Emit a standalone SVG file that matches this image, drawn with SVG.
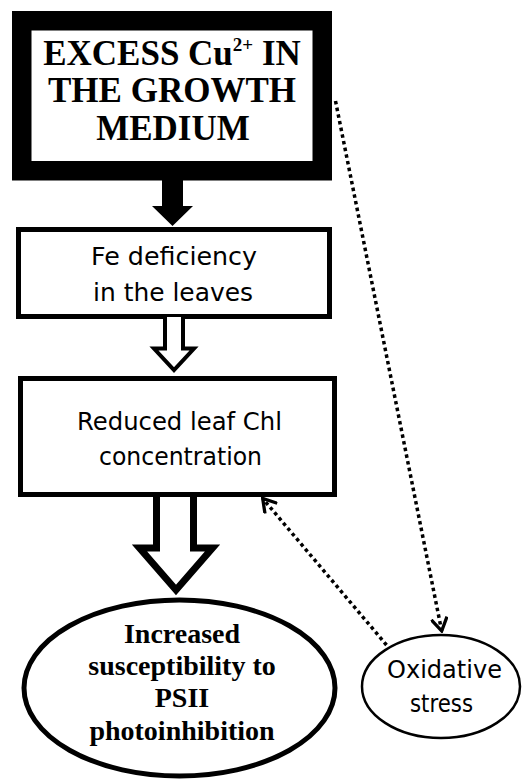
<svg xmlns="http://www.w3.org/2000/svg" width="523" height="780" viewBox="0 0 523 780">
<style>
.serif{font-family:"Liberation Serif","Times New Roman",serif;font-weight:bold;fill:#000;text-anchor:middle}
.sans{font-family:"DejaVu Sans","Open Sans",sans-serif;font-weight:normal;fill:#000}
.box{fill:#fff;stroke:#000}
.dot{fill:none;stroke:#000;stroke-width:3.5;stroke-dasharray:3.5 3.3}
.hollow{fill:#fff;stroke:#000;stroke-linejoin:miter;stroke-miterlimit:10}
</style>
<defs>
<marker id="chev" markerUnits="userSpaceOnUse" viewBox="0 0 16 18" markerWidth="16" markerHeight="18" refX="14" refY="9" orient="auto">
<path d="M1,1 L14,9 L1,17" fill="none" stroke="#000" stroke-width="3.3" stroke-dasharray="none"/>
</marker>
</defs>
<rect width="523" height="780" fill="#fff"/>
<g id="node-excess">
<rect class="box" x="21.75" y="20.75" width="300.5" height="150" stroke-width="19.5"/>
<text class="serif" font-size="35"><tspan x="172" y="65">EXCESS Cu<tspan font-size="19" dy="-14">2+</tspan><tspan dy="14"> IN</tspan></tspan><tspan x="172" y="102">THE GROWTH</tspan><tspan x="173" y="140">MEDIUM</tspan></text>
</g>
<g id="node-fe">
<rect class="box" x="18.5" y="229.5" width="311" height="87" stroke-width="5"/>
<text class="sans" font-size="24"><tspan x="91" y="265" textLength="166" lengthAdjust="spacingAndGlyphs">Fe deficiency</tspan><tspan x="93" y="301" textLength="160" lengthAdjust="spacingAndGlyphs">in the leaves</tspan></text>
</g>
<g id="node-chl">
<rect class="box" x="20.5" y="378.5" width="314" height="116" stroke-width="5"/>
<text class="sans" font-size="24"><tspan x="77" y="430" textLength="205" lengthAdjust="spacingAndGlyphs">Reduced leaf Chl</tspan><tspan x="99" y="465" textLength="163" lengthAdjust="spacingAndGlyphs">concentration</tspan></text>
</g>
<g id="node-psii">
<ellipse cx="179.5" cy="688" rx="155.5" ry="88" fill="#fff" stroke="#000" stroke-width="5"/>
<text class="serif" font-size="28"><tspan x="182" y="643">Increased</tspan><tspan x="182" y="675">susceptibility to</tspan><tspan x="182" y="707">PSII</tspan><tspan x="182" y="740">photoinhibition</tspan></text>
</g>
<g id="node-ox">
<ellipse cx="441" cy="686.5" rx="79" ry="51.5" fill="#fff" stroke="#000" stroke-width="2.5"/>
<text class="sans" font-size="25"><tspan x="387" y="678" textLength="115" lengthAdjust="spacingAndGlyphs">Oxidative</tspan><tspan x="410" y="712" textLength="63" lengthAdjust="spacingAndGlyphs">stress</tspan></text>
</g>
<g id="connectors">
<polygon points="162,180 183,180 183,206 193,206 172.5,226 152,206 162,206" fill="#000"/>
<polyline class="hollow" stroke-width="4" points="165,317 165,348.5 154,348.5 174,370 194,348.5 183,348.5 183,317"/>
<polyline class="hollow" stroke-width="7" points="156.5,497 156.5,548 139.5,548 176,590 212.5,548 193.5,548 193.5,497"/>
<line class="dot" x1="335.5" y1="101" x2="441.7" y2="631" marker-end="url(#chev)"/>
<line class="dot" x1="386.5" y1="645" x2="262.7" y2="498.5" marker-end="url(#chev)"/>
</g>
</svg>
